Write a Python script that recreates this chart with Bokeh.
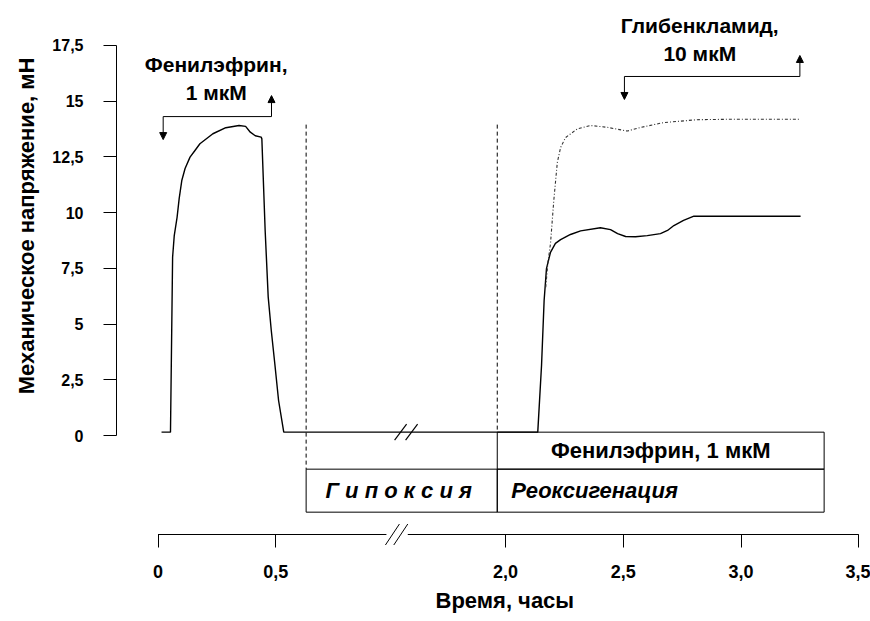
import numpy as np
from bokeh.plotting import figure
from bokeh.models import Range1d, FixedTicker, CustomJSTickFormatter, Arrow, NormalHead, Title
from bokeh.core.properties import value
from bokeh.embed import file_html
from bokeh.resources import INLINE

FONT = "Liberation Sans"

# ---------------- data ----------------
x_tick_hours = [0, 0.5, 2.0, 2.5, 3.0, 3.5]
y_ticks = [0, 2.5, 5, 7.5, 10, 12.5, 15, 17.5]

# solid trace: phenylephrine contraction, hypoxia, reoxygenation (control)
solid_t = [0.015, 0.053, 0.062, 0.069, 0.081, 0.090, 0.101, 0.115, 0.136, 0.157,
           0.178, 0.233, 0.288, 0.344, 0.372, 0.392, 0.413, 0.438, 0.441, 0.455,
           0.468, 0.481, 0.496, 0.512, 0.534,
           2.137, 2.153, 2.164, 2.174, 2.191, 2.212, 2.234, 2.276, 2.319, 2.403,
           2.446, 2.476, 2.510, 2.552, 2.602, 2.658, 2.688, 2.715, 2.756, 2.800, 3.253]
solid_v = [0.15, 0.15, 8.0, 8.97, 9.79, 10.64, 11.44, 11.98, 12.49, 12.79,
           13.09, 13.54, 13.81, 13.91, 13.87, 13.61, 13.45, 13.39, 13.31, 9.2,
           6.21, 4.71, 3.22, 1.57, 0.15,
           0.15, 3.14, 6.06, 7.49, 8.22, 8.62, 8.79, 9.02, 9.18, 9.32,
           9.24, 9.06, 8.93, 8.92, 8.97, 9.06, 9.2, 9.42, 9.65, 9.84, 9.84]

# dash-dot trace: reoxygenation with glibenclamide
glib_t = [2.171, 2.180, 2.191, 2.205, 2.220, 2.234, 2.255, 2.305, 2.361, 2.432,
          2.517, 2.573, 2.671, 2.814, 2.955, 3.253]
glib_v = [6.65, 7.76, 8.6, 10.54, 12.25, 12.92, 13.37, 13.76, 13.91, 13.83,
          13.66, 13.82, 14.04, 14.17, 14.19, 14.19]

phe_bracket = [0.022, 0.482]      # phenylephrine 1 uM: added / washed out
glib_bracket = [2.505, 3.25]      # glibenclamide 10 uM: added / washed out
hypoxia_period = [0.629, 1.965]
reox_period = [1.965, 3.353]
phe_period = [1.965, 3.353]
axis_gap = [0.97, 1.585]          # hours hidden by the axis break

# ---------------- layout ----------------
W, H = 870, 621
B_LEFT, B_BOTTOM = 116, 74
FRAME_W, FRAME_H = W - B_LEFT, H - B_BOTTOM
SX = 235.5            # px per hour
SY = 22.286           # px per mN
X_START = -41.5 / SX
Y_START = -112.0 / SY
BREAK_MID = 1.3
G = 2.0 - 347.5 / SX  # hours removed by the break


def to_display(t):
    t = np.asarray(t, dtype=float)
    return np.where(t < BREAK_MID, t, t - G)


def d(t):
    return float(to_display(t))


def px_x(n):
    return n / SX


def px_y(n):
    return n / SY


p = figure(width=W, height=H, output_backend="svg", toolbar_location=None,
           x_range=Range1d(X_START, X_START + FRAME_W / SX),
           y_range=Range1d(Y_START, Y_START + FRAME_H / SY),
           min_border_left=B_LEFT, min_border_bottom=B_BOTTOM,
           min_border_top=0, min_border_right=0)
p.outline_line_color = None
p.grid.visible = False
p.background_fill_color = "white"
p.border_fill_color = "white"

# ---- traces ----
p.line(to_display(solid_t), solid_v, line_color="black", line_width=1.4)
p.line(to_display(glib_t), glib_v, line_color="#333333", line_width=1.1,
       line_dash="3 2 1 2")

# ---- period boxes ----
BOX_TOP = solid_v[0]
BOX_MID = BOX_TOP - px_y(37)
BOX_BOT = BOX_MID - px_y(43)
DASH_TOP = 13.95

p.segment(x0=[d(hypoxia_period[0]), d(reox_period[0])], y0=[DASH_TOP, DASH_TOP],
          x1=[d(hypoxia_period[0]), d(reox_period[0])], y1=[BOX_MID, BOX_TOP],
          line_color="black", line_width=1, line_dash="4 3")
p.quad(left=[d(phe_period[0]), d(hypoxia_period[0]), d(reox_period[0])],
       right=[d(phe_period[1]), d(hypoxia_period[1]), d(reox_period[1])],
       top=[BOX_TOP, BOX_MID, BOX_MID], bottom=[BOX_MID, BOX_BOT, BOX_BOT],
       fill_color=None, line_color="black", line_width=1)

box_font = dict(text_font=value(FONT), text_font_size="22px", text_color="black",
                text_baseline="middle")
p.text(x=[(d(phe_period[0]) + d(phe_period[1])) / 2], y=[(BOX_TOP + BOX_MID) / 2],
       text=["Фенилэфрин, 1 мкМ"], text_align="center", text_font_style="bold",
       **box_font)
p.text(x=[(d(hypoxia_period[0]) + d(hypoxia_period[1])) / 2 - px_x(3)],
       y=[(BOX_MID + BOX_BOT) / 2],
       text=["Г и п о к с и я"], text_align="center",
       text_font_style="bold italic", **box_font)
p.text(x=[d(reox_period[0]) + px_x(14)], y=[(BOX_MID + BOX_BOT) / 2],
       text=["Реоксигенация"], text_align="left",
       text_font_style="bold italic", **box_font)

# ---- drug application brackets ----
BR_UP = px_y(21)
BR_DOWN = px_y(23)
for (t_on, t_off), top in ((phe_bracket, 14.31), (glib_bracket, 16.11)):
    d_on, d_off = d(t_on), d(t_off)
    p.segment(x0=[d_on], y0=[top], x1=[d_off], y1=[top], line_color="black",
              line_width=1)
    p.add_layout(Arrow(x_start=d_on, y_start=top, x_end=d_on, y_end=top - BR_DOWN,
                       line_width=1,
                       end=NormalHead(size=7, fill_color="black", line_color="black")))
    p.add_layout(Arrow(x_start=d_off, y_start=top, x_end=d_off, y_end=top + BR_UP,
                       line_width=1,
                       end=NormalHead(size=7, fill_color="black", line_color="black")))

ann = dict(text_font=value(FONT), text_font_size="21px", text_font_style="bold",
           text_color="black", text_align="center", text_baseline="middle")
p.text(x=[d(0.247)] * 2, y=[14.31 + 2.33, 14.31 + 1.08],
       text=["Фенилэфрин,", "1 мкМ"], **ann)
p.text(x=[d(2.825)] * 2, y=[16.11 + 2.28, 16.11 + 1.04],
       text=["Глибенкламид,", "10 мкМ"], **ann)

# ---- trace break marks on the baseline ----
gap_c = (d(axis_gap[0]) + d(axis_gap[1])) / 2
bx = [gap_c + px_x(3.5), gap_c + px_x(14.5)]
p.segment(x0=[b - px_x(6) for b in bx], y0=[BOX_TOP - px_y(8)] * 2,
          x1=[b + px_x(6) for b in bx], y1=[BOX_TOP + px_y(8)] * 2,
          line_color="black", line_width=1.2)

# ---- broken x axis line ----
AXIS_V = Y_START + px_y(13)
x_lo, x_hi = d(x_tick_hours[0]), d(x_tick_hours[-1])
g0, g1 = d(axis_gap[0]), d(axis_gap[1])
p.segment(x0=[x_lo, g1], y0=[AXIS_V] * 2, x1=[g0, x_hi], y1=[AXIS_V] * 2,
          line_color="black", line_width=1)
ax_s = [g0 + px_x(6), g1 - px_x(7)]
p.segment(x0=[s - px_x(7) for s in ax_s], y0=[AXIS_V - px_y(10.5)] * 2,
          x1=[s + px_x(7) for s in ax_s], y1=[AXIS_V + px_y(10.5)] * 2,
          line_color="black", line_width=1)

# ---- axes ----
xa = p.xaxis[0]
xa.ticker = FixedTicker(ticks=[float(v) for v in to_display(x_tick_hours)], minor_ticks=[])
xa.formatter = CustomJSTickFormatter(code=f"""
    const t = tick > {BREAK_MID} ? tick + {G} : tick;
    if (Math.abs(t) < 1e-6) return "0";
    return t.toFixed(1).replace(".", ",");
""")
xa.bounds = (x_lo, x_hi)
xa.axis_line_color = None
xa.major_tick_in = 13
xa.major_tick_out = 0
xa.major_tick_line_color = "black"
xa.minor_tick_line_color = None
xa.major_label_standoff = 17
xa.major_label_text_font = FONT
xa.major_label_text_font_style = "bold"
xa.major_label_text_font_size = "18px"
xa.major_label_text_color = "black"

ya = p.yaxis[0]
ya.ticker = FixedTicker(ticks=y_ticks, minor_ticks=[])
ya.formatter = CustomJSTickFormatter(code="""
    return Number.isInteger(tick) ? tick.toFixed(0) : tick.toFixed(1).replace(".", ",");
""")
ya.bounds = (y_ticks[0], y_ticks[-1])
ya.axis_line_color = "black"
ya.axis_line_width = 1
ya.major_tick_in = 0
ya.major_tick_out = 13
ya.major_tick_line_color = "black"
ya.minor_tick_line_color = None
ya.major_label_standoff = 20
ya.major_label_text_font = FONT
ya.major_label_text_font_style = "bold"
ya.major_label_text_font_size = "16px"
ya.major_label_text_color = "black"

# axis titles (placed with offsets so they sit where the original has them)
p.add_layout(Title(text="Механическое напряжение, мН", align="right", offset=57,
                   text_font=FONT, text_font_style="bold", text_font_size="22px",
                   text_color="black", standoff=21), "left")
p.add_layout(Title(text="Время, часы", align="left", offset=319,
                   text_font=FONT, text_font_style="bold", text_font_size="22px",
                   text_color="black", standoff=11), "below")

open("out.html", "w").write(file_html(p, INLINE))
